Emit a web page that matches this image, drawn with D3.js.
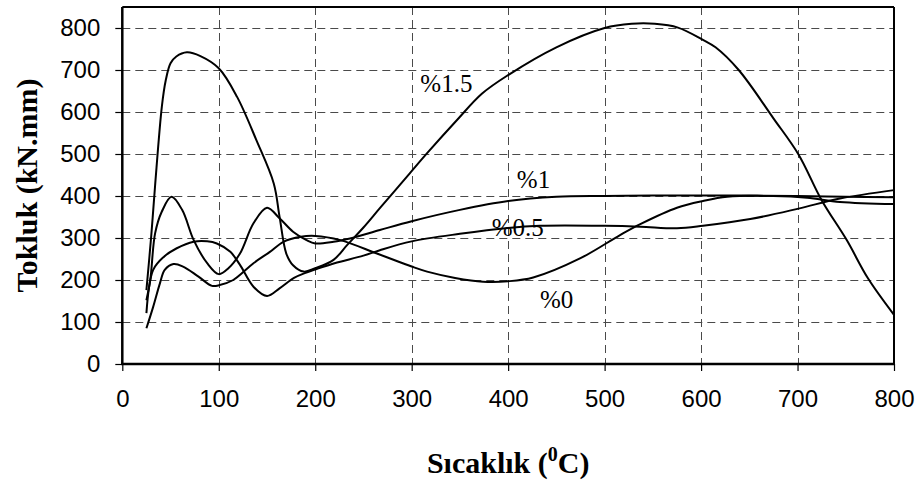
<!DOCTYPE html>
<html>
<head>
<meta charset="utf-8">
<script src="https://cdn.jsdelivr.net/npm/d3@7"></script>
<style>
  html, body { margin: 0; padding: 0; background: #fff; }
  svg { display: block; }
</style>
</head>
<body>
<svg id="chart" width="921" height="485"></svg>
<script>
// ---- data ----
const xTickValues = [0, 100, 200, 300, 400, 500, 600, 700, 800];
const yTickValues = [0, 100, 200, 300, 400, 500, 600, 700, 800];

const seriesNames = ["%1.5", "%1", "%0.5", "%0"];

const temp15 = [25, 30, 34, 41, 45, 50, 56, 67, 81, 100, 119, 139, 157, 163, 170, 177, 188, 200, 219, 233, 250, 267, 298, 316, 347, 373, 400, 450, 500, 528, 552, 576, 601, 615, 639, 675, 701, 725, 751, 773, 800];
const tok15  = [176, 305, 425, 613, 675, 716, 732, 742, 733, 704, 636, 533, 430, 351, 263, 235, 220, 228, 248, 283, 325, 371, 454, 502, 581, 644, 688, 754, 800, 810, 810, 801, 773, 754, 700, 585, 499, 390, 295, 204, 117];

const temp10 = [25, 29, 34, 41, 51, 62, 74, 88, 100, 110, 122, 136, 150, 163, 177, 191, 200, 219, 236, 267, 300, 350, 400, 450, 500, 550, 600, 650, 700, 750, 800];
const tok10  = [152, 200, 311, 363, 398, 367, 295, 240, 214, 228, 263, 335, 372, 347, 315, 295, 287, 291, 299, 319, 340, 367, 388, 398, 400, 401, 401, 401, 400, 398, 397];

const temp05 = [25, 32, 43, 56, 74, 88, 98, 112, 122, 136, 150, 163, 178, 190, 200, 220, 250, 267, 300, 350, 400, 433, 500, 537, 575, 602, 651, 701, 744, 800];
const tok05  = [121, 224, 255, 275, 291, 292, 287, 267, 236, 184, 162, 180, 205, 217, 225, 240, 258, 271, 292, 310, 324, 329, 329, 327, 323, 329, 345, 370, 394, 414];

const temp00 = [25, 32, 39, 44, 53, 63, 79, 93, 101, 115, 136, 153, 167, 185, 200, 226, 264, 300, 316, 345, 374, 400, 426, 475, 516, 537, 575, 602, 627, 675, 710, 744, 800];
const tok00  = [85, 136, 192, 224, 238, 232, 208, 186, 188, 200, 240, 267, 291, 303, 305, 295, 263, 232, 220, 205, 196, 197, 206, 252, 307, 333, 372, 388, 398, 400, 396, 386, 381];

// label anchor points in data units
const labelTemp = [309, 409, 383, 433];
const labelTok  = [648, 419, 305, 133];

// ---- drawing ----
const svg = d3.select("#chart");
const x = d3.scaleLinear().domain([0, 800]).range([122.3, 894]);
const y = d3.scaleLinear().domain([0, 850]).range([364, 7]);

const series = [
  {name: seriesNames[0], t: temp15, v: tok15},
  {name: seriesNames[1], t: temp10, v: tok10},
  {name: seriesNames[2], t: temp05, v: tok05},
  {name: seriesNames[3], t: temp00, v: tok00}
];

// grid
const grid = svg.append("g").attr("stroke", "#4a4a4a").attr("stroke-width", 1)
  .attr("stroke-dasharray", "8,5").attr("fill", "none");
grid.selectAll("line.h").data(yTickValues.filter(d => d > 0)).join("line")
  .attr("x1", x(0)).attr("x2", x(800))
  .attr("y1", d => Math.round(y(d)) + 0.5).attr("y2", d => Math.round(y(d)) + 0.5);
grid.selectAll("line.v").data(xTickValues.filter(d => d > 0 && d < 800)).join("line")
  .attr("y1", y(850)).attr("y2", y(0))
  .attr("x1", d => Math.round(x(d)) + 0.5).attr("x2", d => Math.round(x(d)) + 0.5);

// curves
const line = d3.line().curve(d3.curveCatmullRom.alpha(0.5))
  .x(d => x(d[0])).y(d => y(d[1]));
svg.append("g").selectAll("path").data(series).join("path")
  .attr("d", s => line(s.t.map((t, i) => [t, s.v[i]])))
  .attr("fill", "none").attr("stroke", "#000").attr("stroke-width", 2)
  .attr("stroke-linejoin", "round");

// frame
const frame = svg.append("g").attr("stroke", "#000").attr("fill", "none");
frame.append("line").attr("x1", x(0)).attr("x2", x(800)).attr("y1", y(850)).attr("y2", y(850)).attr("stroke-width", 2);
frame.append("line").attr("x1", x(800)).attr("x2", x(800)).attr("y1", y(850)).attr("y2", y(0)).attr("stroke-width", 2);

// axes
const yAxis = d3.axisLeft(y).tickValues(yTickValues).tickSize(7).tickPadding(15).tickFormat(d3.format("d"));
const xAxis = d3.axisBottom(x).tickValues(xTickValues).tickSize(7).tickPadding(19).tickFormat(d3.format("d"));

const gy = svg.append("g").attr("transform", `translate(${x(0)},0)`).call(yAxis);
const gx = svg.append("g").attr("transform", `translate(0,${y(0)})`).call(xAxis);
[gy, gx].forEach(g => {
  g.select(".domain").remove();
  g.selectAll(".tick line").attr("stroke", "#000").attr("stroke-width", 1.2);
  g.selectAll(".tick text").attr("fill", "#000")
    .style("font-family", "'Liberation Sans', Arial, sans-serif").style("font-size", "24px");
});
frame.append("line").attr("x1", x(0)).attr("x2", x(0)).attr("y1", y(850)).attr("y2", y(0)).attr("stroke-width", 2.5);
frame.append("line").attr("x1", x(0) - 1).attr("x2", x(800) + 1).attr("y1", y(0)).attr("y2", y(0)).attr("stroke-width", 2.5);
frame.raise();

// series labels
svg.append("g").selectAll("text").data(series).join("text")
  .attr("x", (s, i) => x(labelTemp[i])).attr("y", (s, i) => y(labelTok[i]))
  .style("font-family", "'Liberation Serif', 'Times New Roman', serif").style("font-size", "25px")
  .attr("fill", "#000").text(s => s.name);

// axis titles
const xt = svg.append("text").attr("x", (x(0) + x(800)) / 2).attr("y", 473)
  .attr("text-anchor", "middle")
  .style("font-family", "'Liberation Serif', 'Times New Roman', serif").style("font-size", "30px")
  .style("font-weight", "bold").attr("fill", "#000");
xt.append("tspan").text("Sıcaklık (");
xt.append("tspan").attr("dy", -12).style("font-size", "20px").text("0");
xt.append("tspan").attr("dy", 12).text("C)");

svg.append("text")
  .attr("transform", `translate(37,${(y(0) + y(850)) / 2}) rotate(-90)`)
  .attr("text-anchor", "middle")
  .style("font-family", "'Liberation Serif', 'Times New Roman', serif").style("font-size", "30px")
  .style("font-weight", "bold").attr("fill", "#000")
  .text("Tokluk (kN.mm)");
</script>
</body>
</html>
